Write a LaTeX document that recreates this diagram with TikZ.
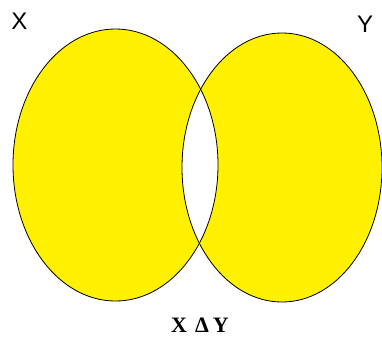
\documentclass[tikz,border=0pt]{standalone}
\usepackage{fontspec}
\setmainfont{Liberation Serif}
\setsansfont{Liberation Sans}
\definecolor{vennyellow}{RGB}{255,241,0}
\begin{document}
\begin{tikzpicture}[x=1pt,y=-1pt,
  outline/.style={draw=black,line width=0.8pt},
  setlabel/.style={font=\sffamily\fontsize{24}{24}\selectfont,inner sep=0pt,anchor=center}]
\useasboundingbox[fill=white] (0,0) rectangle (382,338);
\fill[vennyellow,even odd rule] (115.5,165) ellipse [x radius=102.5,y radius=136]
                                 (282,167.5) ellipse [x radius=100,y radius=134.5];
\draw[outline] (115.5,165) ellipse [x radius=102.5,y radius=136];
\draw[outline] (282,167.5) ellipse [x radius=100,y radius=134.5];
\node[setlabel] (lx) at (19.5,21) {X};
\node[setlabel] (ly) at (365,24) {Y};
\node[inner sep=0pt,font=\bfseries\fontsize{22}{22}\selectfont] (sd) at (200,325.5) {X\hspace{8pt}Δ\hspace{4pt}Y};
\end{tikzpicture}
\end{document}
